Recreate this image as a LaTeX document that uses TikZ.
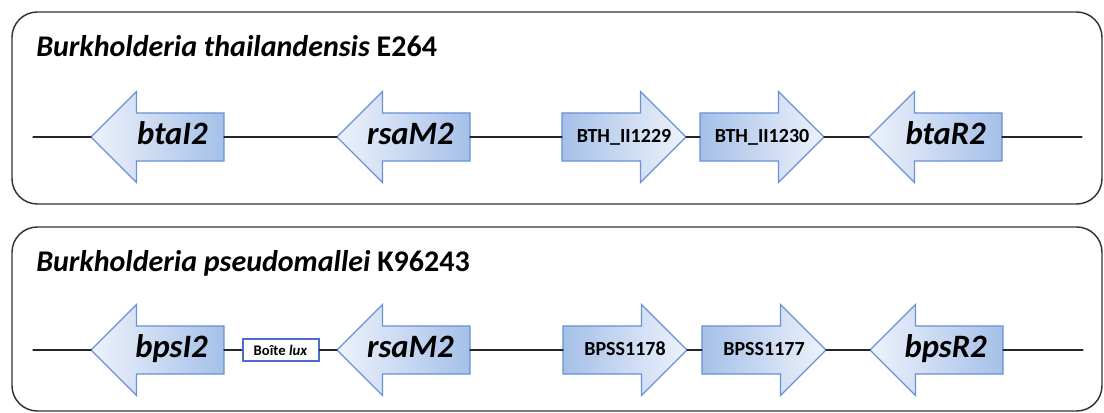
\documentclass[tikz,border=0pt]{standalone}
\usepackage{fontspec}
\setmainfont{Carlito}
\usepackage{tikz}
\usetikzlibrary{shapes.arrows,calc}
\usepackage{xcolor}
\definecolor{geneedge}{RGB}{105,145,212}
\definecolor{genedark}{RGB}{165,192,232}
\definecolor{genelight}{RGB}{238,242,251}
\definecolor{luxblue}{RGB}{75,110,200}

\begin{document}
\begin{tikzpicture}[x=0.75pt,y=-0.75pt,line cap=round,
  panel/.style={draw=black!80,line width=1.1pt,rounded corners=19pt},
  backbone/.style={draw=black!85,line width=0.9pt},
  gene/.style={single arrow,draw=geneedge,line width=0.9pt,inner sep=0pt,inner ysep=17.6pt,outer sep=0pt,
    minimum width=0pt,single arrow head extend=16.1pt,minimum height=99.75pt,anchor=tip},
  toleft/.style={gene,shape border rotate=180,left color=genelight,right color=genedark},
  toright/.style={gene,left color=genedark,right color=genelight,minimum height=93pt},
  title/.style={anchor=base west,inner sep=0pt,font=\fontsize{22.5}{26}\selectfont\bfseries},
  big/.style={anchor=base east,inner sep=0pt,font=\fontsize{24.5}{28}\selectfont\bfseries\itshape},
  small/.style={anchor=base,inner sep=0pt,font=\fontsize{15}{17}\selectfont\bfseries},
  luxbox/.style={draw=luxblue,line width=1.5pt,fill=white,inner sep=0pt,minimum width=57pt,
    minimum height=17pt,font=\fontsize{11}{13}\selectfont\bfseries}]
\useasboundingbox (0,0) rectangle (1104,413);
\draw[panel] (12,12) rectangle (1102,204);
\draw[panel] (12,227) rectangle (1102,411);
\node[title] (thai) at (36,57) {\textit{Burkholderia thailandensis} E264};
\node[title] (pseudo) at (36,272) {\textit{Burkholderia pseudomallei} K96243};

\node[toleft] (btaI2) at (91,137) {};
\node[toleft] (rsaMt) at (337,137) {};
\node[toright] (bth1229) at (686,137) {};
\node[toright] (bth1230) at (824,137) {};
\node[toleft] (btaR2) at (869,137) {};
\node[big] (btaI2-t) at ([shift={(-12pt,-6pt)}]btaI2.tail) {btaI2};
\node[big] (rsaMt-t) at ([shift={(-12pt,-6pt)}]rsaMt.tail) {rsaM2};
\node[big] (btaR2-t) at ([shift={(-12pt,-6pt)}]btaR2.tail) {btaR2};
\node[small,yshift=-4.5pt] (bth1229-t) at ($(bth1229.tip)!.5!(bth1229.tail)$) {BTH\_II1229};
\node[small,yshift=-4.5pt] (bth1230-t) at ($(bth1230.tip)!.5!(bth1230.tail)$) {BTH\_II1230};
\coordinate (t0) at (33,137);
\coordinate (t1) at (1082,137);
\draw[backbone] (t0) -- (btaI2.tip) (btaI2.tail) -- (rsaMt.tip) (rsaMt.tail) -- (bth1229.tail)
  (bth1229.tip) -- (bth1230.tail) (bth1230.tip) -- (btaR2.tip) (btaR2.tail) -- (t1);

\node[toleft] (bpsI2) at (91,350) {};
\node[toleft] (rsaMb) at (337,350) {};
\node[toright] (bpss1178) at (687,350) {};
\node[toright] (bpss1177) at (826,350) {};
\node[toleft] (bpsR2) at (870,350) {};
\node[big] (bpsI2-t) at ([shift={(-12pt,-6pt)}]bpsI2.tail) {bpsI2};
\node[big] (rsaMb-t) at ([shift={(-12pt,-6pt)}]rsaMb.tail) {rsaM2};
\node[big] (bpsR2-t) at ([shift={(-12pt,-6pt)}]bpsR2.tail) {bpsR2};
\node[small,yshift=-4.5pt] (bpss1178-t) at ($(bpss1178.tip)!.5!(bpss1178.tail)$) {BPSS1178};
\node[small,yshift=-4.5pt] (bpss1177-t) at ($(bpss1177.tip)!.5!(bpss1177.tail)$) {BPSS1177};
\node[luxbox] (lux) at ($(bpsI2.tail)!.5!(rsaMb.tip)$) {Boîte \textit{lux}};
\coordinate (b0) at (33,350);
\coordinate (b1) at (1083,350);
\draw[backbone] (b0) -- (bpsI2.tip) (bpsI2.tail) -- (lux.west) (lux.east) -- (rsaMb.tip)
  (rsaMb.tail) -- (bpss1178.tail) (bpss1178.tip) -- (bpss1177.tail) (bpss1177.tip) -- (bpsR2.tip)
  (bpsR2.tail) -- (b1);
\end{tikzpicture}
\end{document}
